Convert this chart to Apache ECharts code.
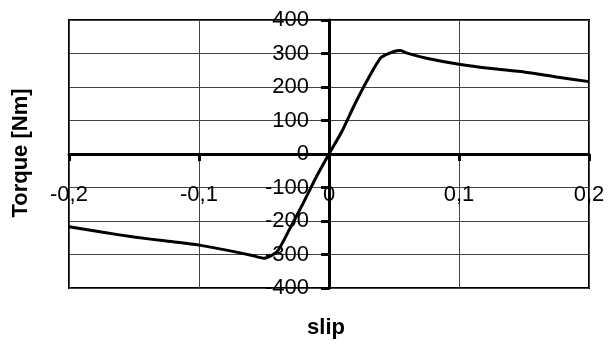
<!DOCTYPE html>
<html>
<head>
<meta charset="utf-8">
<script src="https://cdn.jsdelivr.net/npm/echarts@6/dist/echarts.min.js"></script>
<style>
  html, body { margin: 0; padding: 0; background: #fff; }
  #chart { width: 614px; height: 345px; }
</style>
</head>
<body>
<div id="chart"></div>
<script>
// Torque–slip characteristic of an induction machine
const slip = [-0.2, -0.175, -0.15, -0.125, -0.1, -0.075, -0.06, -0.05, -0.04, -0.03, -0.02, -0.01, 0,
              0.01, 0.02, 0.03, 0.04, 0.05, 0.055, 0.06, 0.075, 0.1, 0.125, 0.15, 0.175, 0.2];
const torque = [-217, -233, -248, -260, -272, -290, -302, -311, -292, -222, -148, -70, 0,
                68, 150, 224, 288, 306, 309, 301, 286, 268, 255, 245, 230, 216];
const xTicks = [-0.2, -0.1, 0, 0.1, 0.2];
const yTicks = [-400, -300, -200, -100, 0, 100, 200, 300, 400];

const FONT = '"Liberation Sans", Arial, sans-serif';
const points = slip.map((s, i) => [s, torque[i]]);

// plot rectangle
const G = { left: 69, right: 25, top: 20, bottom: 57 };
const W = 614 - G.left - G.right;
const H = 345 - G.top - G.bottom;
const xMin = xTicks[0], xMax = xTicks[xTicks.length - 1];
const yMin = yTicks[0], yMax = yTicks[yTicks.length - 1];
// shift the axes so they cross at the origin
const yAxisOffset = -W * (0 - xMin) / (xMax - xMin);
const xAxisOffset = -H * (0 - yMin) / (yMax - yMin);

const chart = echarts.init(document.getElementById('chart'), null, { renderer: 'canvas' });
chart.setOption({
  animation: false,
  backgroundColor: '#fff',
  grid: {
    left: G.left, right: G.right, top: G.top, bottom: G.bottom,
    show: true, borderColor: '#000', borderWidth: 2, backgroundColor: 'transparent'
  },
  xAxis: {
    type: 'value', position: 'bottom', offset: xAxisOffset,
    min: xMin, max: xMax, interval: 0.1,
    axisLine: { onZero: false, lineStyle: { color: '#000', width: 3 } },
    axisTick: { show: true, length: 7, lineStyle: { color: '#000', width: 3 } },
    axisLabel: {
      margin: 30, fontSize: 22, fontFamily: FONT, color: '#000',
      formatter: v => (Math.round(v * 10) / 10).toString().replace('.', ',')
    },
    splitLine: { show: true, lineStyle: { color: '#444', width: 1 } }
  },
  yAxis: {
    type: 'value', position: 'left', offset: yAxisOffset,
    min: yMin, max: yMax, interval: 100,
    axisLine: { onZero: false, lineStyle: { color: '#000', width: 3 } },
    axisTick: { show: true, length: 8, lineStyle: { color: '#000', width: 3 } },
    axisLabel: { margin: 20, fontSize: 22, fontFamily: FONT, color: '#000' },
    splitLine: { show: true, lineStyle: { color: '#444', width: 1 } }
  },
  graphic: [
    {
      type: 'text', x: 21, y: 153, rotation: Math.PI / 2,
      style: { text: 'Torque [Nm]', font: 'bold 22px ' + FONT, fill: '#000', align: 'center', verticalAlign: 'middle' }
    },
    {
      type: 'text', x: 326, y: 328,
      style: { text: 'slip', font: 'bold 22px ' + FONT, fill: '#000', align: 'center', verticalAlign: 'middle' }
    }
  ],
  series: [{
    type: 'line',
    data: points,
    showSymbol: false,
    smooth: 0.2,
    lineStyle: { color: '#000', width: 3 },
    z: 5
  }]
});
</script>
</body>
</html>
